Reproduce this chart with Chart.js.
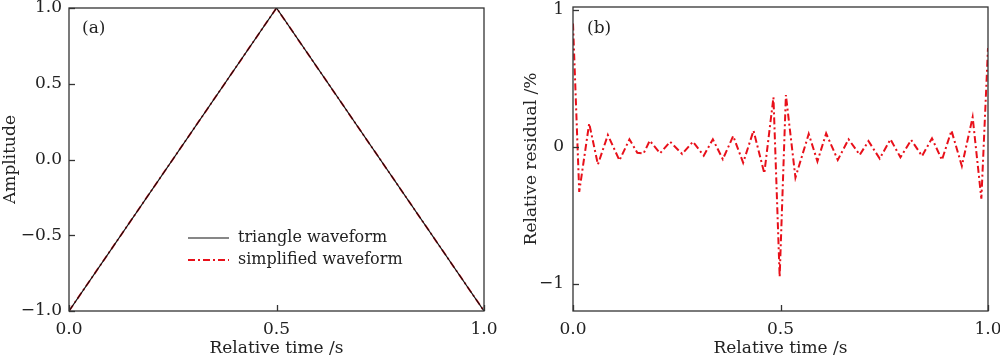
<!DOCTYPE html>
<html>
<head>
<meta charset="utf-8">
<script src="https://cdn.jsdelivr.net/npm/chart.js@4.4.1/dist/chart.umd.min.js"></script>
<style>
  body { margin: 0; background: #fff; }
  .painel { position: absolute; top: 0; width: 500px; height: 357px; }
  #painelA { left: 0; }
  #painelB { left: 500px; }
</style>
</head>
<body>
<div class="painel" id="painelA"><canvas id="graficoA" width="500" height="357"></canvas></div>
<div class="painel" id="painelB"><canvas id="graficoB" width="500" height="357"></canvas></div>
<script>
// dados do painel (a)
const tempoTriangulo = [0, 0.5, 1.0];
const ondaTriangular = [-1, 1, -1];
const ondaSimplificada = [-1, 1, -1];

// dados do painel (b) - residuo relativo em %
const tempoResiduo = [0, 0.015, 0.039, 0.06, 0.084, 0.112, 0.136, 0.155, 0.17, 0.185, 0.21, 0.234, 0.263, 0.289,
    0.315, 0.337, 0.361, 0.386, 0.41, 0.435, 0.461, 0.483, 0.498, 0.513, 0.536, 0.568, 0.589, 0.61, 0.638,
    0.664, 0.691, 0.712, 0.739, 0.765, 0.789, 0.815, 0.841, 0.865, 0.889, 0.912, 0.937, 0.963, 0.984, 1.0];
const residuo = [0.9, -0.33, 0.17, -0.13, 0.085, -0.10, 0.054, -0.045, -0.05, 0.044, -0.048, 0.036, -0.053, 0.036,
    -0.066, 0.054, -0.092, 0.078, -0.117, 0.117, -0.194, 0.36, -0.95, 0.377, -0.226, 0.093, -0.107, 0.097, -0.097,
    0.054, -0.06, 0.041, -0.087, 0.054, -0.078, 0.049, -0.068, 0.061, -0.097, 0.117, -0.141, 0.215, -0.38, 0.72];

// marcas dos eixos
const ticksTempo = [0, 0.5, 1.0];
const ticksAmplitude = [-1, -0.5, 0, 0.5, 1];
const ticksResiduo = [-1, 0, 1];

const FONTE = 'DejaVu Serif';
const COR_TEXTO = '#222';
const COR_EIXO = '#333';
const VERMELHO = '#e8101a';
const TRACO_PONTO = [7, 3, 2, 3];

function pontos(xs, ys) {
    return xs.map((x, i) => ({ x: x, y: ys[i] }));
}

function menos(txt) {
    return txt.replace('-', '\u2212');
}

// moldura + marcas internas + rotulo do painel + legenda
const pluginMoldura = {
    id: 'moldura',
    afterDraw(chart, args, opts) {
        const ctx = chart.ctx;
        const area = chart.chartArea;
        ctx.save();
        ctx.strokeStyle = COR_EIXO;
        ctx.lineWidth = 1.3;
        ctx.strokeRect(area.left, area.top, area.right - area.left, area.bottom - area.top);

        const tam = 6;
        const sx = chart.scales.x;
        sx.ticks.forEach(t => {
            const px = Math.round(sx.getPixelForValue(t.value)) + 0.5;
            ctx.beginPath();
            ctx.moveTo(px, area.bottom);
            ctx.lineTo(px, area.bottom - tam);
            ctx.stroke();
        });
        const sy = chart.scales.y;
        sy.ticks.forEach(t => {
            const py = Math.round(sy.getPixelForValue(t.value)) + 0.5;
            ctx.beginPath();
            ctx.moveTo(area.left, py);
            ctx.lineTo(area.left + tam, py);
            ctx.stroke();
        });

        ctx.fillStyle = COR_TEXTO;
        ctx.font = '17px "' + FONTE + '"';
        ctx.textBaseline = 'middle';
        ctx.textAlign = 'left';
        if (opts.rotulo) {
            ctx.fillText(opts.rotulo, area.left + opts.rotuloX, area.top + opts.rotuloY);
        }

        if (opts.legenda) {
            ctx.font = '16px "' + FONTE + '"';
            chart.data.datasets.forEach((ds, i) => {
                const y = area.top + opts.legendaY + i * 22;
                const x0 = area.left + opts.legendaX;
                ctx.strokeStyle = ds.borderColor;
                ctx.lineWidth = ds.borderWidth;
                ctx.setLineDash(ds.borderDash || []);
                ctx.beginPath();
                ctx.moveTo(x0, y);
                ctx.lineTo(x0 + 41, y);
                ctx.stroke();
                ctx.setLineDash([]);
                ctx.fillText(ds.label, x0 + 50, y);
            });
        }
        ctx.restore();
    }
};

function eixoX() {
    return {
        type: 'linear',
        min: 0,
        max: 1,
        grid: { display: false, drawTicks: false },
        border: { display: false },
        afterBuildTicks: s => { s.ticks = ticksTempo.map(v => ({ value: v })); },
        afterFit: s => { s.height = 46; s.paddingLeft = 0; s.paddingRight = 0; },
        ticks: {
            padding: 8,
            maxRotation: 0,
            autoSkip: false,
            color: COR_TEXTO,
            font: { family: FONTE, size: 17 },
            callback: v => v.toFixed(1)
        },
        title: {
            display: true,
            text: 'Relative time /s',
            color: COR_TEXTO,
            font: { family: FONTE, size: 17, lineHeight: 1.0 },
            padding: { top: 0, bottom: 0 }
        }
    };
}

const graficoA = new Chart(document.getElementById('graficoA'), {
    type: 'line',
    data: {
        datasets: [
            {
                label: 'triangle waveform',
                data: pontos(tempoTriangulo, ondaTriangular),
                borderColor: '#111',
                borderWidth: 1.2,
                pointRadius: 0,
                tension: 0
            },
            {
                label: 'simplified waveform',
                data: pontos(tempoTriangulo, ondaSimplificada),
                borderColor: VERMELHO,
                borderWidth: 1.8,
                borderDash: TRACO_PONTO,
                pointRadius: 0,
                tension: 0
            }
        ]
    },
    options: {
        responsive: false,
        animation: false,
        layout: { padding: { top: 8, right: 16, left: 0, bottom: 0 } },
        plugins: {
            legend: { display: false },
            tooltip: { enabled: false },
            moldura: { rotulo: '(a)', rotuloX: 13, rotuloY: 21, legenda: true, legendaX: 119, legendaY: 230 }
        },
        scales: {
            x: eixoX(),
            y: {
                type: 'linear',
                min: -1,
                max: 1,
                grid: { display: false, drawTicks: false },
                border: { display: false },
                afterBuildTicks: s => { s.ticks = ticksAmplitude.map(v => ({ value: v })); },
                afterFit: s => { s.width = 69; s.paddingTop = 0; s.paddingBottom = 0; },
                ticks: {
                    padding: 7,
                    autoSkip: false,
                    color: COR_TEXTO,
                    font: { family: FONTE, size: 17 },
                    callback: v => menos(v.toFixed(1))
                },
                title: {
                    display: true,
                    text: 'Amplitude',
                    color: COR_TEXTO,
                    font: { family: FONTE, size: 17 },
                    padding: { top: 0, bottom: 0 }
                }
            }
        }
    },
    plugins: [pluginMoldura]
});

const graficoB = new Chart(document.getElementById('graficoB'), {
    type: 'line',
    data: {
        datasets: [
            {
                label: 'relative residual',
                data: pontos(tempoResiduo, residuo),
                borderColor: VERMELHO,
                borderWidth: 2,
                borderDash: TRACO_PONTO,
                pointRadius: 0,
                tension: 0
            }
        ]
    },
    options: {
        responsive: false,
        animation: false,
        layout: { padding: { top: 7, right: 12, left: 0, bottom: 0 } },
        plugins: {
            legend: { display: false },
            tooltip: { enabled: false },
            moldura: { rotulo: '(b)', rotuloX: 14, rotuloY: 22, legenda: false }
        },
        scales: {
            x: eixoX(),
            y: {
                type: 'linear',
                min: -1.2,
                max: 1.02,
                grid: { display: false, drawTicks: false },
                border: { display: false },
                afterBuildTicks: s => { s.ticks = ticksResiduo.map(v => ({ value: v })); },
                afterFit: s => { s.width = 73; s.paddingTop = 0; s.paddingBottom = 0; },
                ticks: {
                    padding: 9,
                    autoSkip: false,
                    color: COR_TEXTO,
                    font: { family: FONTE, size: 17 },
                    callback: v => menos(String(v))
                },
                title: {
                    display: true,
                    text: 'Relative residual /%',
                    color: COR_TEXTO,
                    font: { family: FONTE, size: 17 },
                    padding: { top: 21, bottom: 0 }
                }
            }
        }
    },
    plugins: [pluginMoldura]
});
</script>
</body>
</html>
